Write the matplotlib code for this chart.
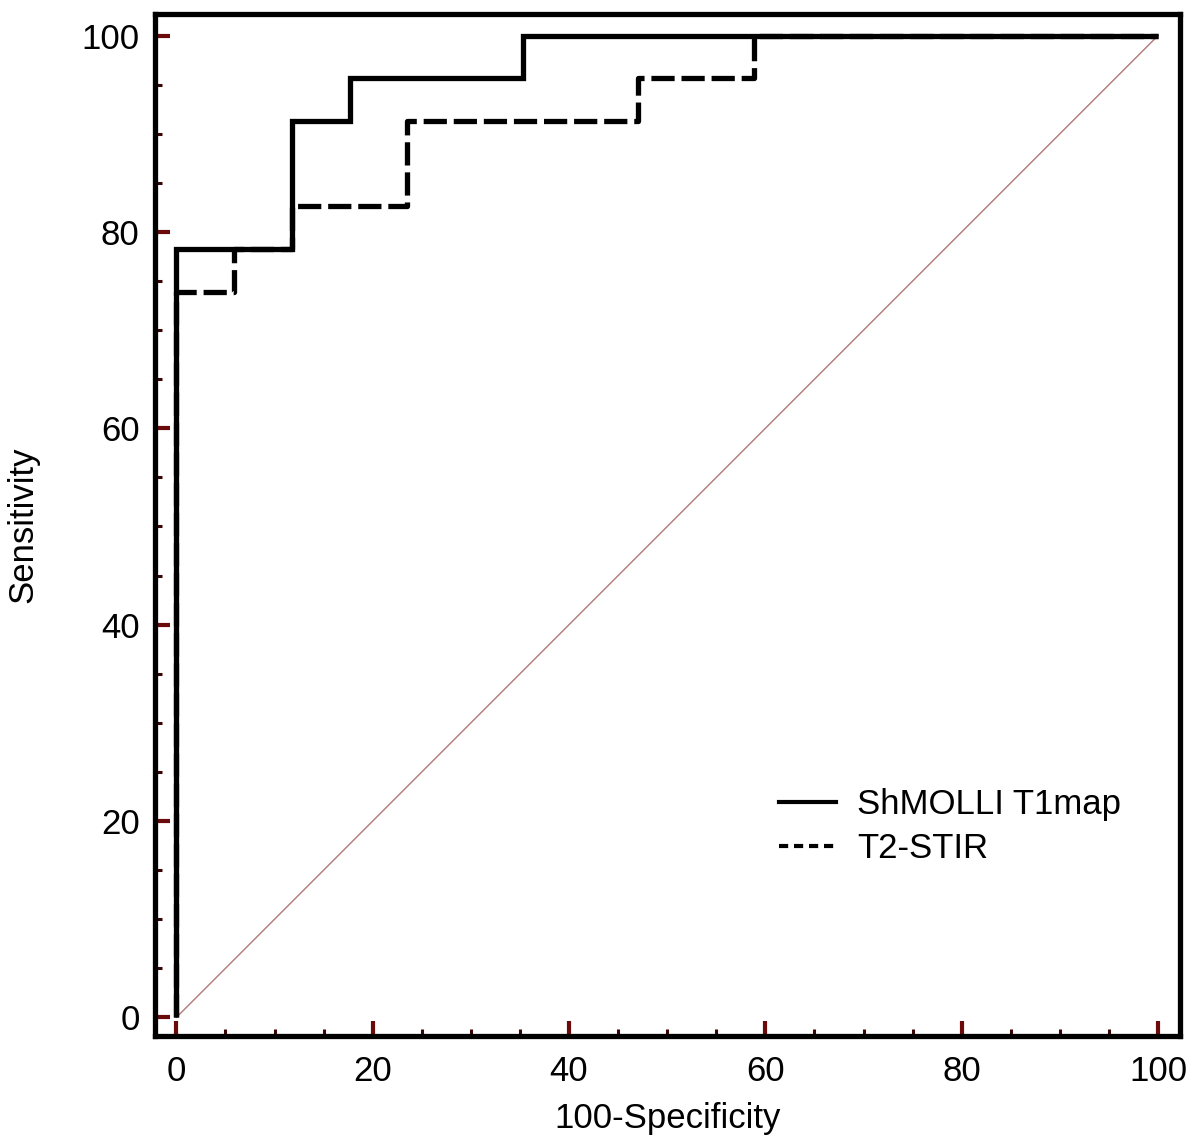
import matplotlib
matplotlib.use("Agg")
import matplotlib.pyplot as plt
from matplotlib.lines import Line2D
from matplotlib.ticker import MultipleLocator

plt.rcParams['font.family'] = ['Liberation Sans', 'DejaVu Sans']

# ROC step corners (100-Specificity, Sensitivity)
shmolli_fpr = [0, 0, 11.76, 11.76, 17.65, 17.65, 35.29, 35.29, 100]
shmolli_tpr = [0, 78.26, 78.26, 91.30, 91.30, 95.65, 95.65, 100, 100]

t2_fpr = [0, 0, 5.88, 5.88, 11.76, 11.76, 23.53, 23.53, 47.06, 47.06, 58.82, 58.82, 100]
t2_tpr = [0, 73.91, 73.91, 78.26, 78.26, 82.61, 82.61, 91.30, 91.30, 95.65, 95.65, 100, 100]

diag = [0, 100]
labels = ['ShMOLLI T1map', 'T2-STIR']

fig = plt.figure(figsize=(12, 11.4), dpi=100)
ax = fig.add_axes([0.129, 0.0912, 0.854, 0.8965])

ax.plot(diag, diag, color='#b07878', lw=1.0, zorder=1)
ax.plot(t2_fpr, t2_tpr, color='black', lw=3.8, dashes=(4.4, 1.3),
        dash_capstyle='butt', solid_joinstyle='miter', zorder=2)
ax.plot(shmolli_fpr, shmolli_tpr, color='black', lw=3.8,
        solid_joinstyle='miter', solid_capstyle='butt', zorder=3)

ax.set_xlim(-2.2, 102.2)
ax.set_ylim(-1.9, 102.2)

for s in ax.spines.values():
    s.set_linewidth(3.8)

ax.xaxis.set_major_locator(MultipleLocator(20))
ax.yaxis.set_major_locator(MultipleLocator(20))
ax.xaxis.set_minor_locator(MultipleLocator(5))
ax.yaxis.set_minor_locator(MultipleLocator(5))
ax.tick_params(which='both', direction='in', top=False, right=False)
ax.tick_params(which='major', length=11, width=3, color='#6b0a0a',
               labelsize=25, pad=14)
ax.tick_params(which='minor', length=5, width=2.2, color='#3a0505')
ax.tick_params(axis='y', which='major', pad=11)

ax.set_xlabel('100-Specificity', fontsize=25, labelpad=10)
ax.set_ylabel('Sensitivity', fontsize=25, labelpad=30)

handles = [Line2D([], [], color='black', lw=3),
           Line2D([], [], color='black', lw=3, dashes=(2.2, 1.4))]
ax.legend(handles, labels, loc='upper left', bbox_to_anchor=(0.592, 0.26),
          frameon=False, fontsize=25, handlelength=1.65, handletextpad=0.6,
          labelspacing=0.32, borderpad=0)

fig.savefig('out.png', dpi=100)
